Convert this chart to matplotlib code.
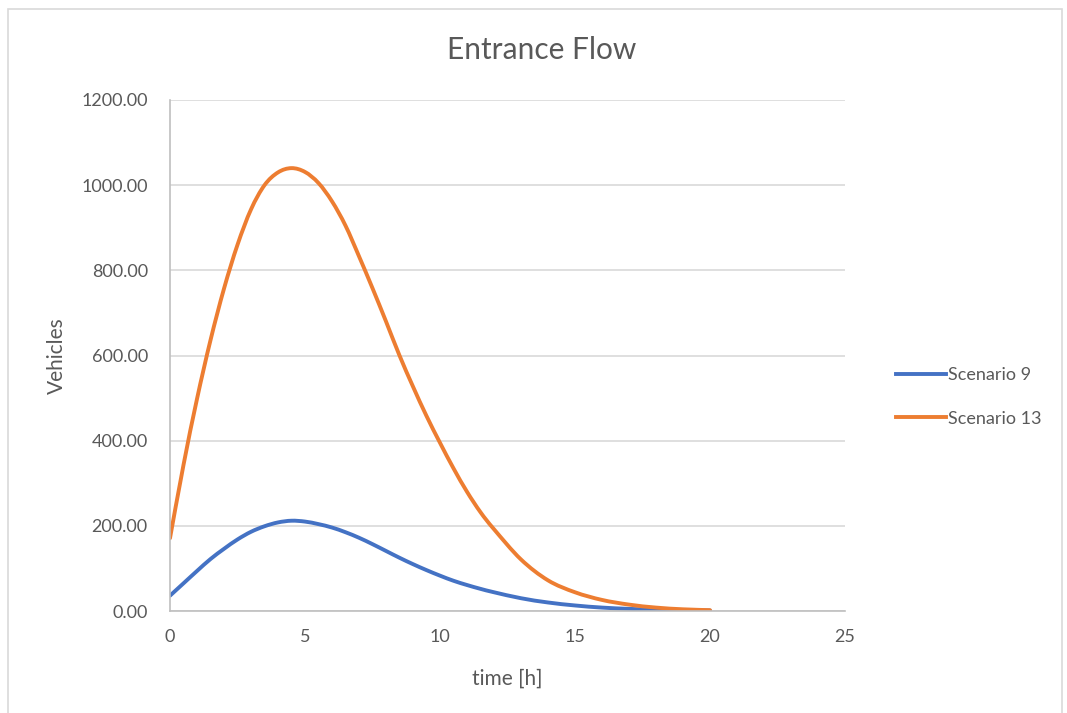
import matplotlib.pyplot as plt
from matplotlib.lines import Line2D
from matplotlib.patches import PathPatch, Rectangle
from matplotlib.path import Path
from matplotlib.ticker import FormatStrFormatter

# hours, half-hour steps up to 12 h, then hourly
hours = [0, 0.5, 1, 1.5, 2, 2.5, 3, 3.5, 4, 4.5, 5, 5.5, 6, 6.5, 7, 7.5, 8,
         8.5, 9, 9.5, 10, 10.5, 11, 11.5, 12, 13, 14, 15, 16, 17, 18, 19, 20]

scenario_9 = [36, 65, 94, 122, 146, 168, 186, 199, 208, 212, 210, 204, 196,
              185, 172, 157, 141, 125, 110, 96, 83, 71, 61, 52, 44, 30, 20,
              13, 8, 5, 3, 2, 1]

scenario_13 = [171, 343, 498, 636, 757, 860, 943, 1000, 1030, 1040, 1031,
               1005, 962, 905, 833, 758, 680, 600, 527, 458, 395, 335, 280,
               232, 192, 121, 72, 44, 26, 15, 8, 4, 2]

x_ticks = [0, 5, 10, 15, 20, 25]
y_ticks = [0, 200, 400, 600, 800, 1000, 1200]

text_color = '#595959'
blue = '#4472C4'
orange = '#ED7D31'
plt.rcParams['font.family'] = ['Lato', 'DejaVu Sans']


def smooth_path(xs, ys):
    # smoothed line like Excel: cubic Bezier segments through every point
    pts = list(zip(xs, ys))
    verts = [pts[0]]
    codes = [Path.MOVETO]
    n = len(pts)
    for i in range(n - 1):
        p0 = pts[max(i - 1, 0)]
        p1 = pts[i]
        p2 = pts[i + 1]
        p3 = pts[min(i + 2, n - 1)]
        c1 = (p1[0] + (p2[0] - p0[0]) / 6, p1[1] + (p2[1] - p0[1]) / 6)
        c2 = (p2[0] - (p3[0] - p1[0]) / 6, p2[1] - (p3[1] - p1[1]) / 6)
        verts += [c1, c2, p2]
        codes += [Path.CURVE4] * 3
    return Path(verts, codes)


fig = plt.figure(figsize=(10.67, 7.13), dpi=100)
ax = fig.add_axes([170 / 1067, 1 - 611 / 713, 675 / 1067, 511 / 713])

for ys, col in [(scenario_9, blue), (scenario_13, orange)]:
    ax.add_patch(PathPatch(smooth_path(hours, ys), fill=False, edgecolor=col,
                           lw=2.8, capstyle='round', joinstyle='round'))

ax.set_xlim(0, 25)
ax.set_ylim(0, 1200)
ax.set_xticks(x_ticks)
ax.set_yticks(y_ticks)
ax.yaxis.set_major_formatter(FormatStrFormatter('%.2f'))
ax.tick_params(length=0, labelsize=13, colors=text_color)
ax.tick_params(axis='x', pad=13)
ax.tick_params(axis='y', pad=16)
ax.grid(axis='y', color='#D9D9D9', lw=1.2)
ax.set_axisbelow(True)

for side in ['top', 'right']:
    ax.spines[side].set_visible(False)
for side in ['left', 'bottom']:
    ax.spines[side].set_color('#BFBFBF')
    ax.spines[side].set_linewidth(1.2)

ax.set_xlabel('time [h]', fontsize=15, color=text_color, labelpad=17)
ax.set_ylabel('Vehicles', fontsize=15, color=text_color, labelpad=10)
fig.text(542 / 1067, 1 - 50 / 713, 'Entrance Flow', ha='center', va='center',
         fontsize=21.5, color=text_color)

handles = [Line2D([], [], color=blue, lw=2.8),
           Line2D([], [], color=orange, lw=2.8)]
fig.legend(handles, ['Scenario 9', 'Scenario 13'], loc='center left',
           bbox_to_anchor=(880 / 1067, 1 - 397 / 713), frameon=False,
           fontsize=13, labelcolor=text_color, handlelength=2.75,
           handletextpad=0.1, labelspacing=1.5)

# outer chart border
fig.patches.append(Rectangle((8 / 1067, -0.05), 1054 / 1067, 1.05 - 9 / 713,
                             transform=fig.transFigure, fill=False,
                             edgecolor='#D9D9D9', lw=1.2))

fig.savefig('out.png', dpi=100)
